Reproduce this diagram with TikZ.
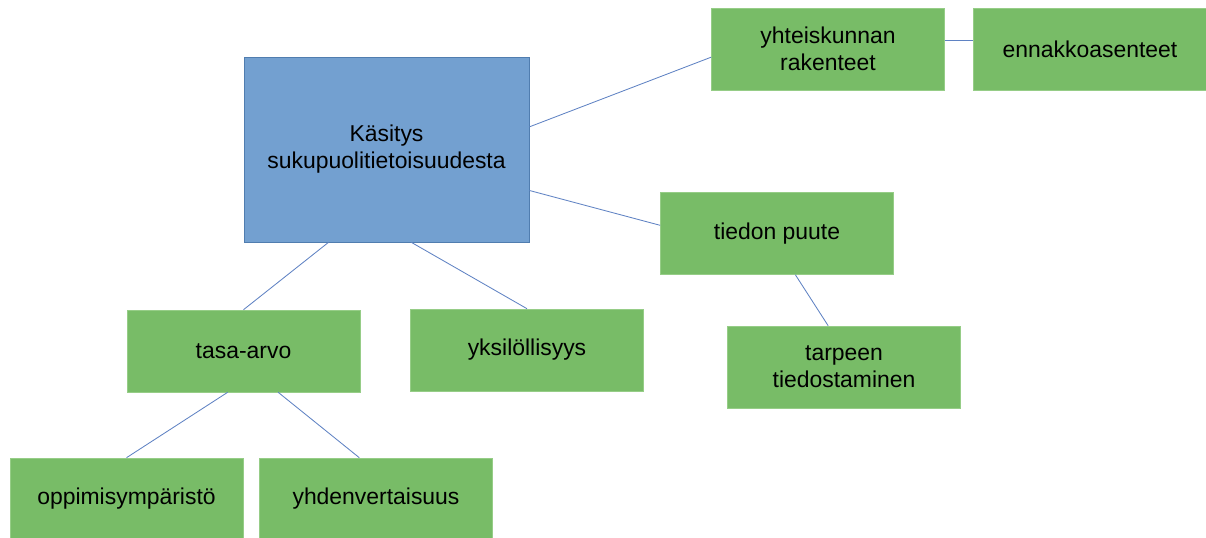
\documentclass[tikz,border=0pt]{standalone}
\usepackage{fontspec}
\setmainfont{Liberation Sans}
\usepackage{tikz}

\definecolor{mainblue}{RGB}{115,160,208}
\definecolor{mainedge}{RGB}{80,125,175}
\definecolor{boxgreen}{RGB}{120,188,103}
\definecolor{greenedge}{RGB}{150,205,135}
\definecolor{linkblue}{RGB}{95,130,195}

\begin{document}
\begin{tikzpicture}[x=0.025cm, y=-0.025cm,
        mainbox/.style={shape=rectangle, draw=mainedge, fill=mainblue, line width=0.5pt,
            minimum width=7.125cm, minimum height=4.625cm, align=center,
            font=\fontsize{16.3}{19.3}\selectfont},
        subbox/.style={shape=rectangle, draw=greenedge, fill=boxgreen, line width=0.4pt,
            minimum width=5.825cm, minimum height=2.05cm, align=center,
            font=\fontsize{16.3}{19.3}\selectfont},
        link/.style={draw=linkblue, line width=0.6pt}]
            \useasboundingbox (0, 0) rectangle (1206, 538);

            \node[mainbox] (K) at (386.5, 149.5) {Käsitys\\sukupuolitietoisuudesta};

            \node[subbox] (R) at (828, 49) {yhteiskunnan\\rakenteet};
            \node[subbox] (E) at (1090, 49) {ennakkoasenteet};
            \node[subbox] (T) at (777, 233.5) {tiedon puute};
            \node[subbox] (TT) at (844, 367) {tarpeen\\tiedostaminen};
            \node[subbox] (A) at (243.5, 351) {tasa-arvo};
            \node[subbox] (Y) at (527, 350) {yksilöllisyys};
            \node[subbox] (O) at (126.5, 499) {oppimisympäristö};
            \node[subbox] (V) at (376, 499) {yhdenvertaisuus};

            \draw[link] (K.9.8) to (R.184.4);
            \draw[link] (R.4) to (E.176);
            \draw[link] (K.-16.6) to (T.176.3);
            \draw[link] (T.-66.6) to (TT.111.3);
            \draw[link] (K.-122.8) to (A.north);
            \draw[link] (K.-75.2) to (Y.north);
            \draw[link] (A.-111.9) to (O.north);
            \draw[link] (A.-50.7) to (V.112);

        \end{tikzpicture}
\end{document}
